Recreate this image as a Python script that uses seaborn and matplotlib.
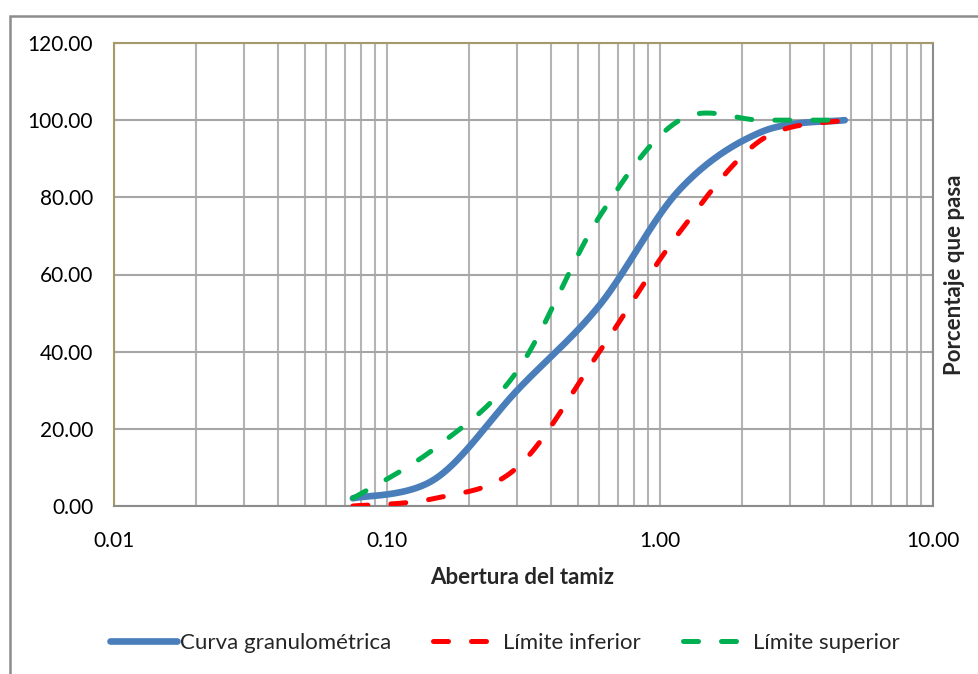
import numpy as np
import pandas as pd
import matplotlib
matplotlib.use("Agg")
import matplotlib.pyplot as plt
import seaborn as sns
from matplotlib.ticker import FixedLocator, FuncFormatter, NullFormatter
from matplotlib.patches import Rectangle

# sieve openings (mm) and percent passing
sizes = [0.075, 0.15, 0.3, 0.6, 1.18, 2.36, 4.75]
curva = [2, 7, 30, 52, 82, 97, 100]
lim_inf = [0, 2, 10, 40, 71, 95, 100]
lim_sup = [2, 15, 35, 75, 100, 100, 100]

x_ticks = [0.01, 0.1, 1, 10]
y_ticks = [0, 20, 40, 60, 80, 100, 120]

BLUE = '#4a7ebb'
RED = '#ff0000'
GREEN = '#00b050'
GRID = '#b4b4b4'


def smooth(xs, ys, n=40):
    """Catmull-Rom smoothing in log-x space (like Excel smoothed lines)."""
    lx = np.log10(np.asarray(xs, float))
    y = np.asarray(ys, float)
    px = np.concatenate([[lx[0]], lx, [lx[-1]]])
    py = np.concatenate([[y[0]], y, [y[-1]]])
    out_x, out_y = [], []
    t = np.linspace(0, 1, n)
    for i in range(1, len(px) - 2):
        p0 = np.array([px[i], py[i]])
        p3 = np.array([px[i + 1], py[i + 1]])
        p1 = p0 + (p3 - np.array([px[i - 1], py[i - 1]])) / 6
        p2 = p3 - (np.array([px[i + 2], py[i + 2]]) - p0) / 6
        b = ((1 - t) ** 3)[:, None] * p0 + (3 * (1 - t) ** 2 * t)[:, None] * p1 \
            + (3 * (1 - t) * t ** 2)[:, None] * p2 + (t ** 3)[:, None] * p3
        out_x.extend(b[:, 0])
        out_y.extend(b[:, 1])
    return 10 ** np.array(out_x), np.array(out_y)


sns.set_style('white')
plt.rcParams['font.family'] = ['Lato', 'DejaVu Sans']

fig = plt.figure(figsize=(9.79, 6.74), dpi=100)
ax = fig.add_axes([114 / 979, 1 - 506 / 674, (933 - 114) / 979, (506 - 43) / 674])

series = [
    ('Curva granulométrica', curva, BLUE, '-', 4.8),
    ('Límite inferior', lim_inf, RED, (0, (3, 4.6)), 3.6),
    ('Límite superior', lim_sup, GREEN, (0, (3, 4.6)), 3.6),
]
for label, vals, color, ls, lw in series:
    sx, sy = smooth(sizes, vals)
    df = pd.DataFrame({'x': sx, 'y': sy})
    sns.lineplot(data=df, x='x', y='y', ax=ax, sort=False, estimator=None,
                 color=color, linewidth=lw, linestyle=ls, label=label,
                 dash_capstyle='round', solid_capstyle='round', zorder=3)

ax.set_xscale('log')
ax.set_xlim(0.01, 10)
ax.set_ylim(0, 120)
ax.xaxis.set_major_locator(FixedLocator(x_ticks))
ax.xaxis.set_minor_locator(FixedLocator(
    [m * d for d in [0.01, 0.1, 1] for m in range(2, 10)]))
ax.xaxis.set_major_formatter(FuncFormatter(lambda v, p: f'{v:.2f}'))
ax.xaxis.set_minor_formatter(NullFormatter())
ax.yaxis.set_major_locator(FixedLocator(y_ticks))
ax.yaxis.set_major_formatter(FuncFormatter(lambda v, p: f'{v:.2f}'))

ax.grid(True, which='major', axis='y', color='#a6a6a6', linewidth=1.5)
ax.grid(True, which='both', axis='x', color=GRID, linewidth=1.5)
ax.tick_params(axis='both', which='both', length=0, labelsize=15, colors='#000000')
ax.tick_params(axis='x', pad=18)
ax.tick_params(axis='y', pad=15)

ax.spines['top'].set_color('#a59a6a')
ax.spines['left'].set_color('#a59a6a')
ax.spines['bottom'].set_color('#8c8c8c')
ax.spines['right'].set_color('#8c8c8c')
for s in ax.spines.values():
    s.set_linewidth(1.5)

ax.set_xlabel('')
ax.set_ylabel('')
fig.text(522 / 979, 1 - 577 / 674, 'Abertura del tamiz', ha='center', va='center',
         fontsize=16, fontweight='bold')
fig.text(955 / 979, 1 - 275 / 674, 'Porcentaje que pasa', ha='center', va='center',
         rotation=90, fontsize=16, fontweight='bold')

handles, labels = ax.get_legend_handles_labels()
if ax.get_legend() is not None:
    ax.get_legend().remove()
fig.legend(handles, labels, loc='center', bbox_to_anchor=(505 / 979, 1 - 643 / 674),
           ncol=3, frameon=False, fontsize=16, handlelength=3.0,
           handletextpad=0.15, columnspacing=1.9)

# outer chart border
fig.patches.append(Rectangle((10 / 979, -0.1), 1.0, 1.1 - 16 / 674,
                             transform=fig.transFigure, fill=False,
                             edgecolor='#8c8c8c', linewidth=1.8))

fig.savefig('out.png', dpi=100)
